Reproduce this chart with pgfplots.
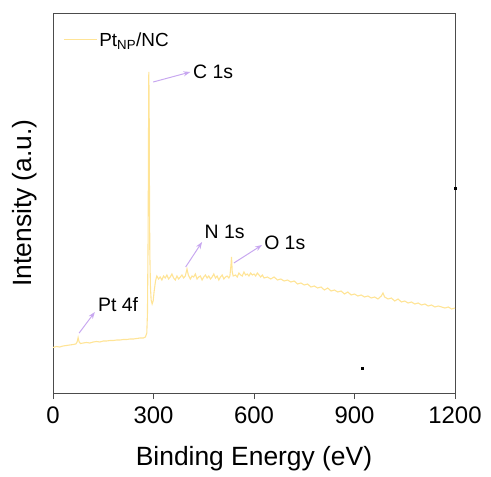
\documentclass[border=0pt]{standalone}
\usepackage{pgfplots}
\pgfplotsset{compat=1.18}
\usepackage{fontspec}
\setmainfont{Liberation Sans}
\usetikzlibrary{arrows.meta}
\definecolor{spec}{RGB}{255,228,150}
\definecolor{arr}{RGB}{200,168,240}
\begin{document}
\begin{tikzpicture}
\begin{axis}[
  scale only axis, width=402bp, height=380bp,
  xmin=0, xmax=1200, ymin=0, ymax=380,
  xtick={0,300,600,900,1200}, ytick=\empty,
  xtick pos=bottom, tick align=outside, major tick length=6bp,
  axis line style={draw=black!70, line width=0.8pt},
  every tick/.style={black!70, line width=0.8pt},
  /pgf/number format/assume math mode=true,
  /pgf/number format/set thousands separator={},
  tick label style={font=\fontsize{24}{28}\selectfont},
  xticklabel style={yshift=-4bp},
  xlabel={Binding Energy (eV)}, ylabel={Intensity (a.u.)},
  label style={font=\fontsize{26.5}{30}\selectfont},
  xlabel style={at={(axis description cs:0.5,0)}, anchor=north, inner sep=0pt, yshift=-53bp},
  ylabel style={at={(axis description cs:0,0.5)}, anchor=south, inner sep=0pt, yshift=16bp},
  legend style={at={(0.025,0.955)}, anchor=north west, draw=none, fill=none,
    font=\fontsize{19}{22}\selectfont, inner sep=0pt},
  legend image code/.code={\draw[#1] (0,0) -- (33bp,0);},
  clip=false,
]
\addplot[spec, line width=1.1pt] coordinates {
(0,45.5)(10,46.5)(20,46)(30,47)(40,47.5)(50,48)(60,48.5)(68,49)(72,51)(75,55.5)(78,51)(82,49.5)(90,50)(100,50.5)(110,50)(120,51)(130,51.5)(140,51)(150,52)(160,52)(170,52.5)(180,52.5)(190,53)(200,53)(210,53.5)(220,53.5)(230,54)(240,54)(250,54.5)(260,55)(270,55)(276,56)(280,60)(282,80)(284,160)(285,250)(286,321)(287,290)(288,200)(289,140)(291,105)(293,93)(296,89)(299,92)(302,102)(306,112)
(310,117)(315,114)(320,116)(325,113)(330,117)(335,115)(340,118)(345,114)(350,116)(355,119)(360,115)(365,113)(370,117)(375,114)(380,116)(385,118)(390,115)(395,117)(400,124)(404,118)(410,114)(415,117)(420,116)(425,119)(430,114)(435,116)(440,117)(445,113)(450,116)(455,118)(460,115)(465,117)(470,114)(475,116)(480,119)(485,115)(490,117)(495,113)(500,116)(505,118)(510,114)(515,116)(520,117)(525,115)(528,117)(531,127)(533,136)(535,121)(538,117)(545,118)(550,116)(555,120)(560,118)(565,117)(570,121)(575,118)(580,119)(585,117)(590,120)(595,118)(600,119)(605,117)(610,120)(615,118)(620,116)(625,118)(630,115)(640,116)(650,114)(660,116)(670,113)(680,114)(690,112)(700,113)(710,111)(720,112)(730,109)(740,110)(750,108)(760,109)(770,106)(780,107)(790,105)(800,106)(810,103)(820,105)(830,102)(840,103)(850,101)(860,102)(870,99)(880,101)(890,98)(900,99)(910,97)(920,98)(930,96)(940,97)(950,95)(960,96)(970,94)(980,97)(985,100)(990,96)(1000,94)(1010,95)(1020,92)(1030,94)(1040,91)(1050,92)(1060,90)(1070,91)(1080,89)(1090,90)(1100,88)(1110,89)(1120,87)(1130,88)(1140,86)(1150,87)(1160,86)(1170,85)(1180,86)(1190,84)(1200,85)
};
\addlegendentry{Pt\textsubscript{NP}/NC}
\addplot[only marks, mark=square*, mark size=1bp, black, forget plot] coordinates {(1200,205) (922,25)};
\draw[arr, line width=1pt, -{Stealth[length=7bp,width=5bp]}] (axis cs:299,311) -- (axis cs:410,321);
\draw[arr, line width=1pt, -{Stealth[length=7bp,width=5bp]}] (axis cs:396,126) -- (axis cs:445,151);
\draw[arr, line width=1pt, -{Stealth[length=7bp,width=5bp]}] (axis cs:540,130) -- (axis cs:624,148);
\draw[arr, line width=1pt, -{Stealth[length=7bp,width=5bp]}] (axis cs:78,60) -- (axis cs:125,81);
\node[anchor=west, inner sep=0pt, font=\fontsize{19.5}{22}\selectfont] at (axis cs:418,321) {C 1s};
\node[anchor=west, inner sep=0pt, font=\fontsize{19.5}{22}\selectfont] at (axis cs:452,161) {N 1s};
\node[anchor=west, inner sep=0pt, font=\fontsize{19.5}{22}\selectfont] at (axis cs:630,150) {O 1s};
\node[anchor=west, inner sep=0pt, font=\fontsize{19.5}{22}\selectfont] at (axis cs:134,88) {Pt 4f};
\end{axis}
\pgfresetboundingbox
\path[use as bounding box] ([shift={(-53bp,-84bp)}]current axis.south west) rectangle ([shift={(36bp,13bp)}]current axis.north east);
\end{tikzpicture}
\end{document}
